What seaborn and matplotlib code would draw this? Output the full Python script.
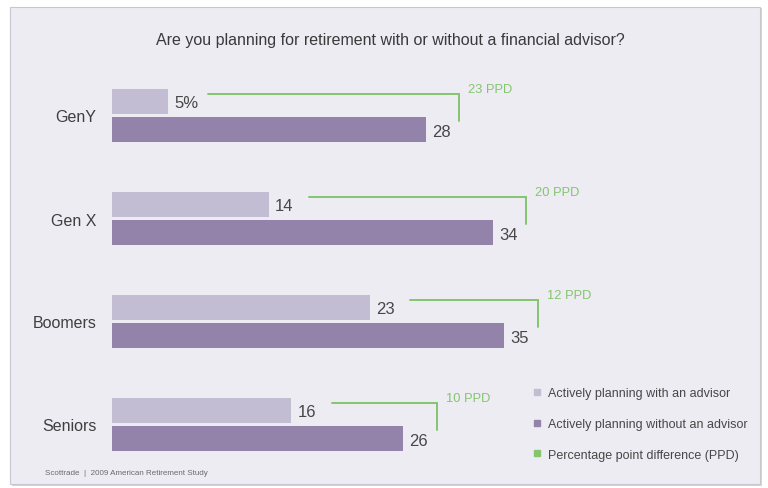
import matplotlib
matplotlib.use("Agg")
import matplotlib.pyplot as plt
from matplotlib.patches import FancyBboxPatch
from matplotlib.lines import Line2D
import seaborn as sns
import pandas as pd

# Survey values (percent)
generations = ["GenY", "Gen X", "Boomers", "Seniors"]
with_advisor = [5, 14, 23, 16]
without_advisor = [28, 34, 35, 26]
ppd_values = [23, 20, 12, 10]
series_names = ["Actively planning with an advisor", "Actively planning without an advisor"]
ppd_name = "Percentage point difference (PPD)"
title = "Are you planning for retirement with or without a financial advisor?"
source = "Scottrade  |  2009 American Retirement Study"

LIGHT = "#c3bdd4"
DARK = "#9383ab"
GREEN = "#84c56f"
TEXT = "#474747"
PANEL = "#edecf3"

sns.set_theme(style="white")
plt.rcParams["font.family"] = ["Liberation Sans", "DejaVu Sans"]

df = pd.DataFrame({
    "generation": generations * 2,
    "value": with_advisor + without_advisor,
    "series": [series_names[0]] * 4 + [series_names[1]] * 4,
})

W, H = 768, 489
fig = plt.figure(figsize=(W / 100, H / 100), dpi=100)
fig.patch.set_facecolor("white")

# Card-style panel with soft shadow
shadow = FancyBboxPatch((12 / W, 2 / H), 750 / W, 478 / H, boxstyle="square,pad=0",
                        transform=fig.transFigure, facecolor="#b8b8b8", edgecolor="none",
                        alpha=0.6, zorder=-2)
panel = FancyBboxPatch((10 / W, 4 / H), 750 / W, 477 / H, boxstyle="square,pad=0",
                       transform=fig.transFigure, facecolor=PANEL, edgecolor="#c8c8cc",
                       linewidth=0.8, zorder=-1)
fig.patches.extend([shadow, panel])

# Axes placed so 0 sits at x=112 px with 11.2 px per point
x0, ppu = 112, 11.2
top_px, bot_px = 65, 477
ax = fig.add_axes([x0 / W, 1 - bot_px / H, 50 * ppu / W, (bot_px - top_px) / H])
ax.set_zorder(2)
ax.set_facecolor("none")

sns.barplot(data=df, y="generation", x="value", hue="series", order=generations,
            hue_order=series_names, palette=[LIGHT, DARK], width=0.55, gap=0.1,
            orient="h", ax=ax, legend=False, saturation=1, edgecolor="none")

ax.set_xlim(0, 50)
ax.set_ylim(3.5, -0.5)
ax.set_xlabel("")
ax.set_ylabel("")
ax.set_xticks([])
ax.tick_params(axis="y", length=0, pad=11, labelsize=11.5, labelcolor="#3f3f3f")
for s in ax.spines.values():
    s.set_visible(False)

# Value labels beside each bar
for i, (w, wo) in enumerate(zip(with_advisor, without_advisor)):
    lab = f"{w}%" if i == 0 else f"{w}"
    ax.text(w + 0.55, i - 0.125, lab, va="center", ha="left", fontsize=12, color=TEXT)
    ax.text(wo + 0.55, i + 0.16, f"{wo}", va="center", ha="left", fontsize=12, color=TEXT)

# Percentage point difference brackets
for i, (w, wo, d) in enumerate(zip(with_advisor, without_advisor, ppd_values)):
    xs = w + 3.6
    xe = wo + 3.0
    yh = i - 0.205
    ax.plot([xs, xe, xe], [yh, yh, i + 0.05], color=GREEN, lw=1.4, solid_joinstyle="miter")
    ax.text(xe + 0.8, i - 0.26, f"{d} PPD", va="center", ha="left", fontsize=9.3, color=GREEN)

fig.text(390 / W, 1 - 40 / H, title, ha="center", va="center", fontsize=11.5, color="#3a3a3a")
fig.text(45 / W, 1 - 474 / H, source, ha="left", va="center", fontsize=5.8, color="#6a6a6a")

handles = [Line2D([], [], marker="s", linestyle="none", markersize=5, color=c)
           for c in (LIGHT, DARK, GREEN)]
leg = fig.legend(handles, series_names + [ppd_name], loc="upper left",
                 bbox_to_anchor=(526 / W, 1 - 382 / H), frameon=False, fontsize=9,
                 handlelength=0.8, handletextpad=0.5, labelspacing=1.5, borderpad=0)
for t in leg.get_texts():
    t.set_color(TEXT)

fig.savefig("out.png", dpi=100, facecolor=fig.get_facecolor())
